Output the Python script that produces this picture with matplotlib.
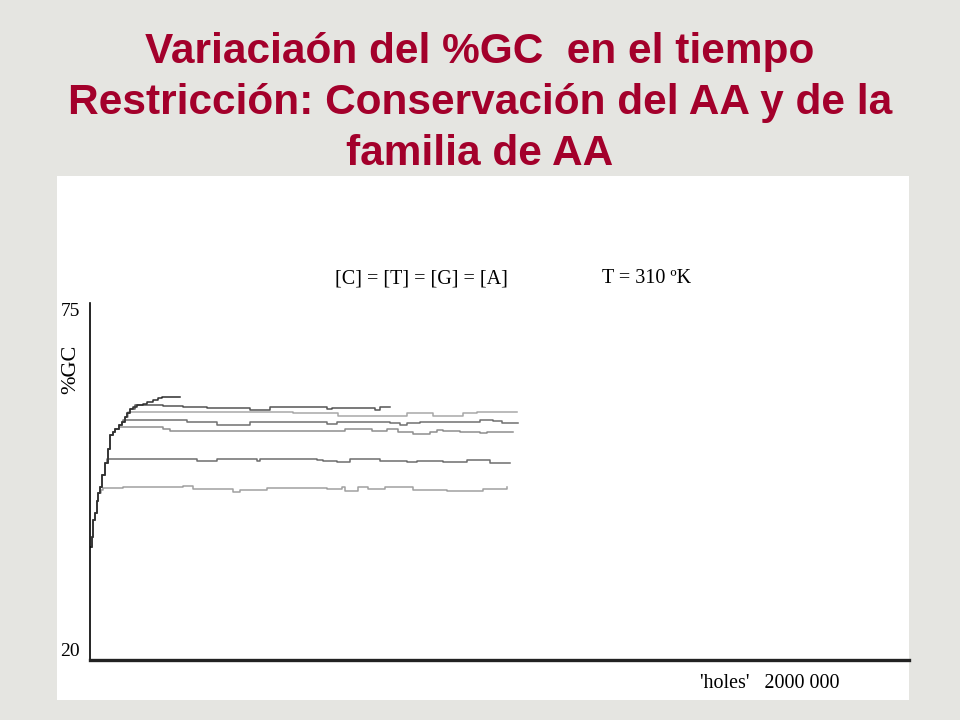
import matplotlib
matplotlib.use("Agg")
import matplotlib.pyplot as plt

# %GC vs number of 'holes' (x in thousands of holes)
a_x = [0, 4, 8, 12, 16, 20, 24, 30, 37, 43, 49, 55, 61, 70, 78, 85, 90, 98, 105, 115, 129, 140, 154, 165, 176, 220]
a_y = [37.4, 39.0, 41.5, 42.6, 44.5, 45.8, 46.6, 48.5, 50.3, 52.5, 54.7, 55.2, 55.6, 56.2, 56.7, 57.4, 58.1, 58.6, 59.0, 59.3, 59.4, 59.8, 60.1, 60.3, 60.5, 60.5]

b_x = [0, 4, 8, 12, 16, 20, 24, 30, 37, 43, 49, 55, 61, 70, 78, 85, 90, 98, 110, 178, 227, 286, 391, 440, 579, 591, 696, 708, 733]
b_y = [37.4, 39.0, 41.5, 42.6, 44.5, 45.8, 46.6, 48.5, 50.3, 52.5, 54.7, 55.2, 55.6, 56.2, 56.7, 57.4, 58.1, 58.6, 59.3, 59.1, 59.0, 58.8, 58.5, 59.0, 58.6, 58.8, 58.5, 58.95, 58.95]

c_x = [0, 4, 8, 12, 16, 20, 24, 30, 37, 43, 49, 55, 61, 70, 78, 85, 93, 496, 510, 606, 774, 838, 911, 945, 1043]
c_y = [37.4, 39.0, 41.5, 42.6, 44.5, 45.8, 46.6, 48.5, 50.3, 52.5, 54.7, 55.2, 55.6, 56.2, 56.7, 57.4, 58.2, 58.0, 58.1, 57.6, 58.05, 57.6, 58.05, 58.15, 58.15]

d_x = [0, 4, 8, 12, 16, 20, 24, 30, 37, 43, 49, 55, 61, 70, 78, 81, 237, 310, 391, 513, 579, 603, 652, 733, 757, 774, 806, 855, 911, 952, 984, 1006, 1045]
d_y = [37.4, 39.0, 41.5, 42.6, 44.5, 45.8, 46.6, 48.5, 50.3, 52.5, 54.7, 55.2, 55.6, 56.2, 56.7, 57.0, 56.7, 56.25, 56.7, 56.65, 56.35, 56.7, 56.6, 56.45, 56.2, 56.45, 56.6, 56.7, 56.6, 57.05, 56.85, 56.55, 56.55]

e_x = [0, 4, 8, 12, 16, 20, 24, 30, 37, 43, 49, 55, 61, 70, 178, 195, 623, 689, 725, 752, 789, 830, 847, 862, 904, 952, 969, 1018, 1033]
e_y = [37.4, 39.0, 41.5, 42.6, 44.5, 45.8, 46.6, 48.5, 50.3, 52.5, 54.7, 55.2, 55.6, 55.9, 55.6, 55.3, 55.55, 55.3, 55.55, 55.15, 54.85, 55.15, 55.4, 55.3, 55.15, 54.95, 55.15, 55.05, 55.05]

f_x = [0, 4, 8, 12, 16, 20, 24, 30, 37, 42, 261, 310, 408, 415, 432, 554, 569, 603, 635, 708, 774, 798, 862, 921, 977, 1026]
f_y = [37.4, 39.0, 41.5, 42.6, 44.5, 45.8, 46.6, 48.5, 50.3, 50.95, 50.7, 51.0, 50.6, 51.0, 50.95, 50.75, 50.6, 50.5, 50.9, 50.7, 50.45, 50.7, 50.45, 50.8, 50.35, 50.35]

g_x = [0, 4, 8, 12, 16, 20, 26, 32, 80, 227, 252, 325, 349, 366, 432, 537, 579, 615, 623, 654, 679, 720, 789, 872, 921, 960, 1018]
g_y = [37.4, 39.0, 41.5, 42.6, 44.5, 45.7, 46.2, 46.5, 46.6, 46.8, 46.3, 46.3, 45.9, 46.2, 46.55, 46.55, 46.3, 46.6, 46.1, 46.6, 46.3, 46.6, 46.2, 46.1, 46.0, 46.4, 46.6]

series = [
    (g_x, g_y, "#a0a0a0"),
    (f_x, f_y, "#6e6e6e"),
    (e_x, e_y, "#8e8e8e"),
    (d_x, d_y, "#707070"),
    (c_x, c_y, "#a8a8a8"),
    (b_x, b_y, "#555555"),
    (a_x, a_y, "#2e2e2e"),
]

bg = "#e5e5e1"
red = "#a3002b"
serif = "Liberation Serif"

fig = plt.figure(figsize=(9.6, 7.2), dpi=100, facecolor=bg)

# white panel holding the old chart
panel = fig.add_axes([57 / 960, 20 / 720, 852 / 960, 524 / 720])
panel.set_facecolor("white")
panel.set_xticks([])
panel.set_yticks([])
for s in panel.spines.values():
    s.set_visible(False)

fig.text(0.5, 1 - 103 / 720,
         "Variaciaón del %GC  en el tiempo\nRestricción: Conservación del AA y de la\nfamilia de AA",
         ha="center", va="center", fontsize=30.5, fontweight="bold",
         family="Liberation Sans", color=red, linespacing=1.34)

ax = fig.add_axes([90 / 960, 60 / 720, 819 / 960, 357 / 720])
ax.set_facecolor("none")
for x, y, col in series:
    ax.plot(x, y, drawstyle="steps-post", color=col, lw=1.1)
ax.set_xlim(0, 2000)
ax.set_ylim(20, 75)
ax.set_xticks([])
ax.set_yticks([])
for s in ["top", "right"]:
    ax.spines[s].set_visible(False)
ax.spines["left"].set_linewidth(1.2)
ax.spines["bottom"].set_linewidth(2.4)
ax.spines["bottom"].set_color("#222222")

ax.text(-0.012, 1.0, "75", transform=ax.transAxes, ha="right", va="top",
        fontsize=14, family=serif)
ax.text(-0.012, 0.0, "20", transform=ax.transAxes, ha="right", va="bottom",
        fontsize=14, family=serif)
fig.text(71 / 960, 1 - 369 / 720, "%GC", rotation=90, ha="center", va="center",
         fontsize=16, family=serif)
fig.text(335 / 960, 1 - 279 / 720, "[C] = [T] = [G] = [A]", ha="left", va="center",
         fontsize=14.5, family=serif)
fig.text(602 / 960, 1 - 279 / 720, "T = 310 ºK", ha="left", va="center",
         fontsize=14.5, family=serif)
fig.text(700 / 960, 1 - 684 / 720, "'holes'   2000 000", ha="left", va="center",
         fontsize=14.4, family=serif)

fig.savefig("out.png", dpi=100, facecolor=bg)
